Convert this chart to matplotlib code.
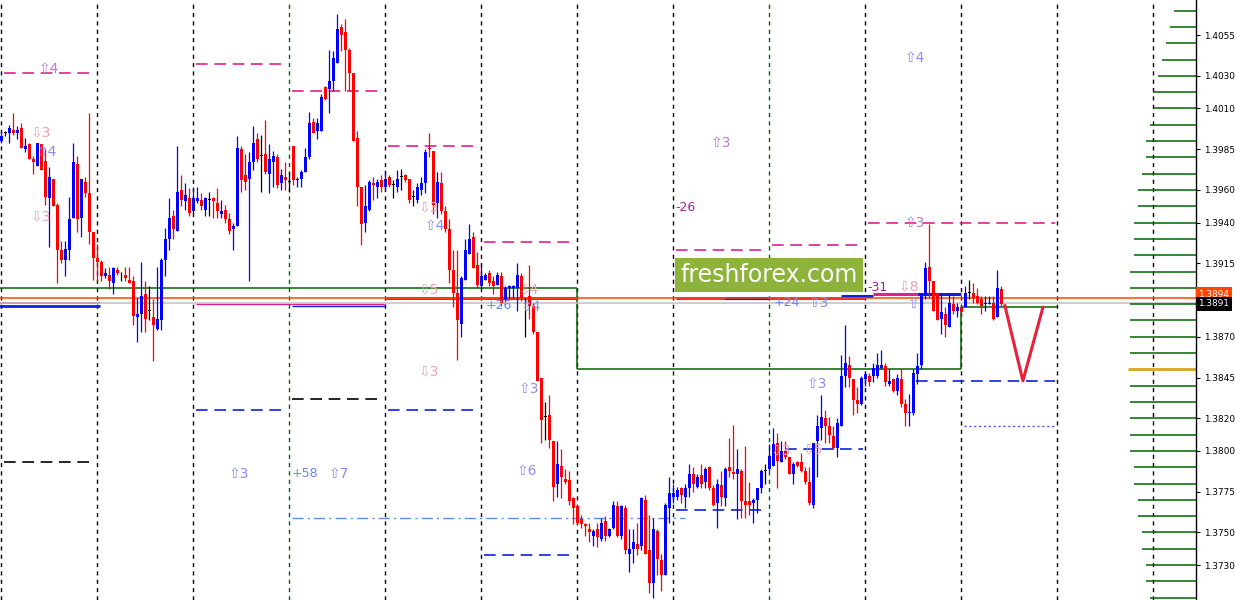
import matplotlib
matplotlib.use("Agg")
import matplotlib.pyplot as plt
from matplotlib.patches import Rectangle

# H1 bars, prices
OPEN = [1.3990, 1.3995, 1.3995, 1.3997, 1.3995, 1.3998, 1.3985, 1.3988, 1.3979, 1.3975,
        1.3988, 1.3978, 1.3955, 1.3967, 1.3951, 1.3923, 1.3917, 1.3923, 1.3943, 1.3976,
        1.3943, 1.3965, 1.3958, 1.3934, 1.3918, 1.3916, 1.3907, 1.3908, 1.3903, 1.3911,
        1.3909, 1.3908, 1.3905, 1.3904, 1.3882, 1.3884, 1.3896, 1.3886, 1.3882, 1.3875,
        1.3880, 1.3917, 1.3930, 1.3944, 1.3935, 1.3960, 1.3953, 1.3955, 1.3947, 1.3953,
        1.3954, 1.3948, 1.3954, 1.3955, 1.3952, 1.3945, 1.3948, 1.3942, 1.3936, 1.3938,
        1.3985, 1.3969, 1.3967, 1.3977, 1.3991, 1.3981, 1.3982, 1.3970, 1.3977, 1.3980,
        1.3964, 1.3968, 1.3965, 1.3987, 1.3966, 1.3967, 1.3971, 1.3980, 1.4002, 1.3996,
        1.3996, 1.4023, 1.4022, 1.4027, 1.4038, 1.4060, 1.4057, 1.4046, 1.4032, 1.3992,
        1.3962, 1.3940, 1.3948, 1.3964, 1.3962, 1.3966, 1.3962, 1.3968, 1.3963, 1.3962,
        1.3968, 1.3969, 1.3967, 1.3956, 1.3954, 1.3960, 1.3964, 1.3986, 1.3984, 1.3952,
        1.3964, 1.3947, 1.3936, 1.3911, 1.3897, 1.3878, 1.3905, 1.3921, 1.3931, 1.3914,
        1.3901, 1.3905, 1.3909, 1.3904, 1.3902, 1.3907, 1.3893, 1.3900, 1.3900, 1.3900,
        1.3907, 1.3893, 1.3895, 1.3889, 1.3873, 1.3845, 1.3821, 1.3822, 1.3806, 1.3780,
        1.3791, 1.3783, 1.3782, 1.3771, 1.3766, 1.3758, 1.3755, 1.3752, 1.3748, 1.3752,
        1.3746, 1.3757, 1.3748, 1.3753, 1.3766, 1.3748, 1.3765, 1.3737, 1.3740, 1.3743,
        1.3742, 1.3770, 1.3739, 1.3719, 1.3751, 1.3733, 1.3724, 1.3765, 1.3772, 1.3772,
        1.3777, 1.3772, 1.3777, 1.3786, 1.3778, 1.3785, 1.3781, 1.3790, 1.3777, 1.3768,
        1.3779, 1.3771, 1.3790, 1.3787, 1.3786, 1.3788, 1.3769, 1.3769, 1.3768, 1.3770,
        1.3777, 1.3788, 1.3789, 1.3791, 1.3805, 1.3793, 1.3800, 1.3796, 1.3786, 1.3793,
        1.3793, 1.3788, 1.3781, 1.3767, 1.3806, 1.3814, 1.3820, 1.3815, 1.3809, 1.3802,
        1.3815, 1.3846, 1.3853, 1.3844, 1.3831, 1.3829, 1.3844, 1.3846, 1.3846, 1.3846,
        1.3851, 1.3852, 1.3841, 1.3844, 1.3837, 1.3844, 1.3829, 1.3823, 1.3823, 1.3847,
        1.3853, 1.3895, 1.3913, 1.3904, 1.3897, 1.3881, 1.3884, 1.3876, 1.3890, 1.3886,
        1.3888, 1.3888, 1.3897, 1.3897, 1.3895, 1.3893, 1.3890, 1.3890, 1.3891, 1.3882,
        1.3899]
HIGH = [1.3996, 1.3996, 1.4000, 1.4007, 1.3999, 1.4001, 1.3992, 1.3989, 1.3981, 1.3989,
        1.3988, 1.3985, 1.3974, 1.3967, 1.3952, 1.3929, 1.3929, 1.3956, 1.3989, 1.3981,
        1.3967, 1.3968, 1.4007, 1.3934, 1.3927, 1.3917, 1.3912, 1.3913, 1.3913, 1.3913,
        1.3910, 1.3913, 1.3913, 1.3907, 1.3894, 1.3916, 1.3904, 1.3901, 1.3893, 1.3913,
        1.3918, 1.3937, 1.3955, 1.3948, 1.3987, 1.3969, 1.3964, 1.3961, 1.3962, 1.3962,
        1.3958, 1.3956, 1.3959, 1.3956, 1.3961, 1.3954, 1.3951, 1.3946, 1.3940, 1.3993,
        1.3987, 1.3982, 1.3983, 1.3999, 1.3995, 1.3994, 1.4003, 1.3988, 1.3984, 1.3982,
        1.3973, 1.3977, 1.3971, 1.3987, 1.3968, 1.3972, 1.3986, 1.4008, 1.4004, 1.4004,
        1.4019, 1.4024, 1.4046, 1.4045, 1.4068, 1.4062, 1.4065, 1.4047, 1.4032, 1.3996,
        1.3962, 1.3963, 1.3966, 1.3968, 1.3967, 1.3969, 1.3972, 1.3969, 1.3966, 1.3972,
        1.3973, 1.3970, 1.3967, 1.3960, 1.3964, 1.3968, 1.3985, 1.3995, 1.3984, 1.3971,
        1.3971, 1.3950, 1.3942, 1.3923, 1.3923, 1.3907, 1.3930, 1.3939, 1.3934, 1.3922,
        1.3915, 1.3909, 1.3911, 1.3907, 1.3910, 1.3910, 1.3901, 1.3902, 1.3902, 1.3915,
        1.3909, 1.3894, 1.3914, 1.3891, 1.3873, 1.3845, 1.3830, 1.3834, 1.3806, 1.3806,
        1.3801, 1.3789, 1.3788, 1.3772, 1.3766, 1.3761, 1.3756, 1.3756, 1.3752, 1.3756,
        1.3759, 1.3760, 1.3753, 1.3769, 1.3769, 1.3767, 1.3767, 1.3752, 1.3752, 1.3756,
        1.3772, 1.3773, 1.3761, 1.3759, 1.3752, 1.3737, 1.3768, 1.3784, 1.3780, 1.3778,
        1.3778, 1.3780, 1.3792, 1.3790, 1.3786, 1.3792, 1.3790, 1.3791, 1.3779, 1.3783,
        1.3788, 1.3790, 1.3808, 1.3816, 1.3801, 1.3789, 1.3803, 1.3781, 1.3771, 1.3777,
        1.3789, 1.3792, 1.3804, 1.3814, 1.3811, 1.3806, 1.3806, 1.3796, 1.3793, 1.3794,
        1.3799, 1.3790, 1.3790, 1.3805, 1.3822, 1.3834, 1.3825, 1.3821, 1.3815, 1.3820,
        1.3859, 1.3877, 1.3858, 1.3844, 1.3839, 1.3846, 1.3847, 1.3848, 1.3854, 1.3860,
        1.3862, 1.3854, 1.3850, 1.3845, 1.3847, 1.3850, 1.3832, 1.3835, 1.3850, 1.3860,
        1.3896, 1.3916, 1.3939, 1.3904, 1.3897, 1.3897, 1.3888, 1.3896, 1.3895, 1.3891,
        1.3889, 1.3901, 1.3905, 1.3903, 1.3900, 1.3895, 1.3895, 1.3895, 1.3895, 1.3911,
        1.3901]
LOW = [1.3989, 1.3993, 1.3989, 1.3994, 1.3991, 1.3986, 1.3983, 1.3979, 1.3970, 1.3975,
       1.3972, 1.3951, 1.3925, 1.3950, 1.3903, 1.3915, 1.3907, 1.3917, 1.3943, 1.3934,
       1.3931, 1.3956, 1.3927, 1.3905, 1.3904, 1.3904, 1.3906, 1.3899, 1.3896, 1.3908,
       1.3904, 1.3904, 1.3903, 1.3877, 1.3867, 1.3873, 1.3873, 1.3880, 1.3855, 1.3874,
       1.3874, 1.3907, 1.3923, 1.3930, 1.3935, 1.3950, 1.3948, 1.3944, 1.3946, 1.3952,
       1.3948, 1.3944, 1.3944, 1.3943, 1.3943, 1.3943, 1.3940, 1.3933, 1.3923, 1.3938,
       1.3959, 1.3960, 1.3904, 1.3972, 1.3977, 1.3959, 1.3970, 1.3958, 1.3962, 1.3961,
       1.3960, 1.3960, 1.3959, 1.3963, 1.3962, 1.3962, 1.3971, 1.3979, 1.3995, 1.3991,
       1.3996, 1.4015, 1.4007, 1.4021, 1.4038, 1.4045, 1.4021, 1.4021, 1.3990, 1.3950,
       1.3926, 1.3934, 1.3947, 1.3954, 1.3955, 1.3959, 1.3960, 1.3962, 1.3955, 1.3959,
       1.3960, 1.3965, 1.3952, 1.3950, 1.3952, 1.3957, 1.3958, 1.3980, 1.3945, 1.3943,
       1.3945, 1.3934, 1.3903, 1.3888, 1.3856, 1.3870, 1.3905, 1.3921, 1.3912, 1.3900,
       1.3900, 1.3905, 1.3901, 1.3896, 1.3902, 1.3889, 1.3892, 1.3894, 1.3894, 1.3886,
       1.3892, 1.3870, 1.3881, 1.3872, 1.3843, 1.3805, 1.3807, 1.3802, 1.3769, 1.3772,
       1.3771, 1.3780, 1.3767, 1.3755, 1.3755, 1.3753, 1.3748, 1.3744, 1.3742, 1.3741,
       1.3745, 1.3745, 1.3747, 1.3752, 1.3747, 1.3746, 1.3737, 1.3726, 1.3731, 1.3736,
       1.3739, 1.3737, 1.3713, 1.3710, 1.3724, 1.3714, 1.3724, 1.3756, 1.3768, 1.3770,
       1.3768, 1.3765, 1.3772, 1.3775, 1.3777, 1.3777, 1.3777, 1.3776, 1.3766, 1.3753,
       1.3766, 1.3766, 1.3784, 1.3783, 1.3758, 1.3759, 1.3759, 1.3761, 1.3756, 1.3762,
       1.3774, 1.3780, 1.3788, 1.3791, 1.3777, 1.3793, 1.3795, 1.3786, 1.3780, 1.3790,
       1.3787, 1.3780, 1.3767, 1.3765, 1.3784, 1.3807, 1.3805, 1.3805, 1.3801, 1.3796,
       1.3815, 1.3839, 1.3839, 1.3822, 1.3823, 1.3828, 1.3840, 1.3840, 1.3842, 1.3845,
       1.3850, 1.3840, 1.3840, 1.3836, 1.3834, 1.3827, 1.3815, 1.3815, 1.3822, 1.3841,
       1.3850, 1.3893, 1.3894, 1.3886, 1.3880, 1.3872, 1.3870, 1.3876, 1.3884, 1.3882,
       1.3883, 1.3888, 1.3893, 1.3891, 1.3890, 1.3884, 1.3886, 1.3890, 1.3880, 1.3882,
       1.3889]
CLOSE = [1.3993, 1.3995, 1.3998, 1.3995, 1.3997, 1.3986, 1.3987, 1.3979, 1.3977, 1.3989,
         1.3972, 1.3956, 1.3968, 1.3950, 1.3923, 1.3917, 1.3924, 1.3942, 1.3977, 1.3942,
         1.3967, 1.3958, 1.3934, 1.3918, 1.3916, 1.3907, 1.3909, 1.3904, 1.3912, 1.3909,
         1.3909, 1.3906, 1.3903, 1.3883, 1.3884, 1.3895, 1.3881, 1.3886, 1.3877, 1.3881,
         1.3917, 1.3930, 1.3943, 1.3936, 1.3959, 1.3954, 1.3957, 1.3946, 1.3955, 1.3955,
         1.3950, 1.3955, 1.3954, 1.3953, 1.3947, 1.3947, 1.3942, 1.3935, 1.3938, 1.3986,
         1.3966, 1.3965, 1.3977, 1.3989, 1.3979, 1.3981, 1.3971, 1.3979, 1.3981, 1.3963,
         1.3969, 1.3966, 1.3965, 1.3966, 1.3967, 1.3971, 1.3980, 1.4001, 1.3995, 1.4001,
         1.4017, 1.4016, 1.4027, 1.4041, 1.4059, 1.4055, 1.4046, 1.4032, 1.3990, 1.3962,
         1.3939, 1.3950, 1.3965, 1.3963, 1.3965, 1.3962, 1.3967, 1.3963, 1.3963, 1.3967,
         1.3968, 1.3966, 1.3954, 1.3956, 1.3962, 1.3964, 1.3983, 1.3985, 1.3951, 1.3965,
         1.3947, 1.3936, 1.3911, 1.3897, 1.3880, 1.3906, 1.3923, 1.3930, 1.3912, 1.3902,
         1.3907, 1.3908, 1.3903, 1.3901, 1.3908, 1.3891, 1.3900, 1.3901, 1.3901, 1.3908,
         1.3894, 1.3893, 1.3889, 1.3873, 1.3843, 1.3819, 1.3821, 1.3807, 1.3778, 1.3792,
         1.3784, 1.3781, 1.3769, 1.3765, 1.3756, 1.3755, 1.3754, 1.3750, 1.3751, 1.3747,
         1.3756, 1.3748, 1.3752, 1.3767, 1.3748, 1.3766, 1.3739, 1.3740, 1.3744, 1.3740,
         1.3771, 1.3737, 1.3719, 1.3752, 1.3734, 1.3724, 1.3767, 1.3774, 1.3774, 1.3776,
         1.3773, 1.3777, 1.3786, 1.3780, 1.3784, 1.3780, 1.3789, 1.3777, 1.3767, 1.3780,
         1.3772, 1.3789, 1.3788, 1.3786, 1.3789, 1.3769, 1.3767, 1.3767, 1.3770, 1.3777,
         1.3788, 1.3788, 1.3797, 1.3804, 1.3794, 1.3800, 1.3796, 1.3786, 1.3792, 1.3791,
         1.3788, 1.3781, 1.3768, 1.3805, 1.3815, 1.3821, 1.3815, 1.3810, 1.3802, 1.3817,
         1.3846, 1.3854, 1.3845, 1.3831, 1.3829, 1.3845, 1.3847, 1.3842, 1.3851, 1.3853,
         1.3853, 1.3842, 1.3843, 1.3837, 1.3845, 1.3829, 1.3823, 1.3824, 1.3848, 1.3852,
         1.3896, 1.3912, 1.3904, 1.3886, 1.3880, 1.3885, 1.3877, 1.3891, 1.3886, 1.3888,
         1.3885, 1.3897, 1.3897, 1.3894, 1.3891, 1.3889, 1.3891, 1.3891, 1.3881, 1.3900,
         1.3890]

DAY_BARS = [0, 24, 48, 72, 96, 120, 144, 168, 192, 216, 240, 264, 288]
WEEK_BARS = [72, 192]

# daily levels: price, first bar, last bar
HI_LEVELS = [(1.4032, 0.7, 23.4), (1.4037, 48.7, 71.4), (1.4021, 72.7, 95.4),
             (1.3987, 96.7, 119.4), (1.3928, 120.7, 143.4), (1.3923, 168.7, 191.4),
             (1.3926, 192.7, 215.4), (1.3940, 216.7, 263.4)]
LO_LEVELS_BLUE = [(1.3825, 48.7, 71.4), (1.3825, 96.7, 119.4), (1.3764, 168.7, 191.4),
                  (1.3801, 196.0, 215.4), (1.3843, 228.7, 263.4), (1.3736, 120.7, 143.4)]
LO_LEVELS_BLACK = [(1.3793, 0.7, 23.4), (1.3832, 72.7, 95.4)]
DASHDOT_LEVEL = (1.3759, 72.7, 171.0)
DOTTED_LEVEL = (1.3815, 240.7, 263.4)

# pivot step line (green)
STEP_PRICE = [1.3900, 1.3850, 1.3888]
STEP_FROM = [-1, 144, 240]
STEP_TO = [144, 240, 264]

ASK = 1.3894
BID = 1.3891

# volume profile on the right edge
PROFILE_PRICE = [1.4070, 1.4060, 1.4050, 1.4040, 1.4030, 1.4020, 1.4010, 1.4000, 1.3990,
                 1.3980, 1.3970, 1.3960, 1.3950, 1.3940, 1.3930, 1.3920, 1.3910, 1.3900,
                 1.3890, 1.3880, 1.3870, 1.3860, 1.3850, 1.3840, 1.3830, 1.3820, 1.3810,
                 1.3800, 1.3790, 1.3780, 1.3770, 1.3760, 1.3750, 1.3740, 1.3730, 1.3720,
                 1.3710]
PROFILE_LEN = [22, 26, 30, 34, 38, 43, 42, 46, 50, 50, 54, 58, 58, 62, 62, 62, 66, 66,
               66, 66, 66, 66, 68, 66, 66, 66, 66, 66, 62, 62, 58, 58, 54, 54, 50, 50, 46]
POC = 1.3850

AXIS_TICKS = [1.4055, 1.4030, 1.4010, 1.3985, 1.3960, 1.3940, 1.3915, 1.3870,
              1.3845, 1.3820, 1.3800, 1.3775, 1.3750, 1.3730]

# signal arrows: bar, price, kind, count
ARROWS = [(12, 1.4034, "up_p", "4"), (10, 1.3995, "dn", "3"), (11.5, 1.3983, "up", "4"),
          (10, 1.3944, "dn", "3"), (59.5, 1.3786, "up", "3"), (84.5, 1.3786, "up", "7"),
          (107, 1.3949, "dn", "3"), (108.5, 1.3938, "up", "4"), (107, 1.3899, "dn", "5"),
          (107, 1.3849, "dn", "3"), (132, 1.3899, "dn", "4"), (132.5, 1.3888, "up", "4"),
          (132, 1.3838, "up", "3"), (131.5, 1.3788, "up", "6"), (180, 1.3989, "up_p", "3"),
          (204.5, 1.3891, "up", "3"), (227, 1.3901, "dn", "8"), (228, 1.3890, "up", ""),
          (228.5, 1.4041, "up", "4"), (228.5, 1.3940, "up_p", "3"), (204, 1.3841, "up", "3"),
          (195, 1.3800, "dn", "3"), (203, 1.3801, "dn", "5")]
# pip results
RESULTS = [(76, 1.3786, "+58"), (124.5, 1.3889, "+26"), (171, 1.3949, "-26"),
           (196.5, 1.3891, "+24"), (219, 1.3900, "-31")]

# drawn forecast
V_BARS = [250.9, 255.4, 260.4]
V_PRICE = [1.3889, 1.3843, 1.3888]

W, H = 1235, 600
XMIN, XMAX = -0.325, 298.675
YMIN, YMAX = 1.37086, 1.40765


def main():
    fig = plt.figure(figsize=(W / 100, H / 100), dpi=100)
    ax = fig.add_axes([0, 0, 1196 / W, 1])
    ax.set_xlim(XMIN, XMAX)
    ax.set_ylim(YMIN, YMAX)

    # separators
    for d in DAY_BARS:
        col = "#006400" if d in WEEK_BARS else "black"
        ax.axvline(d, color=col, lw=1, ls=(0, (3, 3)), zorder=1)

    # daily levels
    for p, a, b in HI_LEVELS:
        ax.hlines(p, a, b, color="#e0208f", lw=1.2, ls=(0, (7, 4)), zorder=2)
    for p, a, b in LO_LEVELS_BLUE:
        ax.hlines(p, a, b, color="#1020e0", lw=1.2, ls=(0, (7, 4)), zorder=2)
    for p, a, b in LO_LEVELS_BLACK:
        ax.hlines(p, a, b, color="black", lw=1.2, ls=(0, (7, 4)), zorder=2)
    p, a, b = DASHDOT_LEVEL
    ax.hlines(p, a, b, color="#5a8ff0", lw=1, ls=(0, (8, 3, 1.5, 3)), zorder=2)
    p, a, b = DOTTED_LEVEL
    ax.hlines(p, a, b, color="#5050e0", lw=1, ls=(0, (1.5, 2)), zorder=2)

    # pivot step
    for p, a, b in zip(STEP_PRICE, STEP_FROM, STEP_TO):
        ax.hlines(p, a, b, color="#006400", lw=1.1, zorder=2)
    for k in range(len(STEP_PRICE) - 1):
        ax.vlines(STEP_TO[k], STEP_PRICE[k], STEP_PRICE[k + 1], color="#006400", lw=1.1, zorder=2)

    # open trades lines
    ax.hlines(1.3894, 96, 144, color="#ff2020", lw=2.2, zorder=2)
    ax.hlines(1.3889, -1, 24.7, color="#1020e0", lw=2, zorder=2)
    ax.hlines(1.3891, -1, 24.7, color="#e0208f", lw=1.2, zorder=2)
    ax.hlines(1.3890, 48.7, 96, color="#e0208f", lw=1, zorder=2)
    ax.hlines(1.3889, 72.7, 96, color="#1020e0", lw=1, zorder=2)
    ax.hlines(1.3894, 168.7, 216, color="#e0208f", lw=2.2, zorder=2)
    ax.hlines(1.3894, 181, 192, color="#1020e0", lw=2.2, zorder=2)
    ax.hlines(1.3895, 210, 218, color="#1020e0", lw=2.2, zorder=2)
    ax.hlines(1.3896, 218, 229, color="#e0208f", lw=2.2, zorder=2)
    ax.hlines(1.3896, 229, 240, color="#1020e0", lw=2.2, zorder=2)

    # ask / bid
    ax.axhline(ASK, color="#ff4500", lw=1.1, zorder=2)
    ax.axhline(BID, color="#c0c0c0", lw=1.1, zorder=2)

    # profile
    sc = 0.25
    for p, n in zip(PROFILE_PRICE, PROFILE_LEN):
        col, lw = ("#daa520", 2) if p == POC else ("#006400", 1.1)
        ax.hlines(p, XMAX - n * sc, XMAX, color=col, lw=lw, zorder=2)

    # candles
    for i, (o, h, l, c) in enumerate(zip(OPEN, HIGH, LOW, CLOSE)):
        col = "#0000ff" if c > o else ("#ff0000" if c < o else "black")
        ax.vlines(i, l, h, color=col, lw=0.9, zorder=3)
        lo, hi = min(o, c), max(o, c)
        ax.add_patch(Rectangle((i - 0.38, lo), 0.76, max(hi - lo, 0.00004),
                               facecolor=col, edgecolor="none", zorder=4))

    # arrows
    cols = {"up": "#8c8cf5", "up_p": "#c078d8", "dn": "#f0a0b8"}
    for x, p, kind, n in ARROWS:
        glyph = "\u21e9" if kind == "dn" else "\u21e7"
        ax.text(x, p, glyph + n, color=cols[kind], fontsize=10, ha="center",
                va="center", zorder=5)
    for x, p, t in RESULTS:
        col = "#6688ee" if t.startswith("+") else "#a0209a"
        ax.text(x, p, t, color=col, fontsize=9, ha="center", va="center", zorder=5)

    # forecast V
    ax.plot(V_BARS, V_PRICE, color="#e8203a", lw=2.2, zorder=6)

    # watermark
    ax.add_patch(Rectangle((168.4, 1.38975), 47.0, 0.00208, facecolor="#8db33a",
                           edgecolor="none", zorder=7))
    ax.text(191.9, 1.39081, "freshforex.com", color="white", fontsize=17,
            ha="center", va="center", zorder=8)

    # right price axis
    ax.yaxis.tick_right()
    ax.set_yticks(AXIS_TICKS)
    ax.set_yticklabels([f"{t:.4f}" for t in AXIS_TICKS])
    ax.tick_params(axis="y", direction="out", length=3, width=0.8, pad=3,
                   labelsize=6.4, colors="black")
    ax.set_xticks([])
    for s in ("top", "bottom", "left"):
        ax.spines[s].set_visible(False)
    ax.spines["right"].set_linewidth(1)

    ax.text(1.002, (ASK - YMIN) / (YMAX - YMIN) + 0.006, f"{ASK:.4f}", transform=ax.transAxes,
            fontsize=6.4, color="white", va="center", ha="left", clip_on=False,
            bbox=dict(boxstyle="square,pad=0.3", fc="#ff4500", ec="none"))
    ax.text(1.002, (BID - YMIN) / (YMAX - YMIN) - 0.002, f"{BID:.4f}", transform=ax.transAxes,
            fontsize=6.4, color="white", va="center", ha="left", clip_on=False,
            bbox=dict(boxstyle="square,pad=0.3", fc="black", ec="none"))

    fig.savefig("out.png", dpi=100)


if __name__ == "__main__":
    main()
